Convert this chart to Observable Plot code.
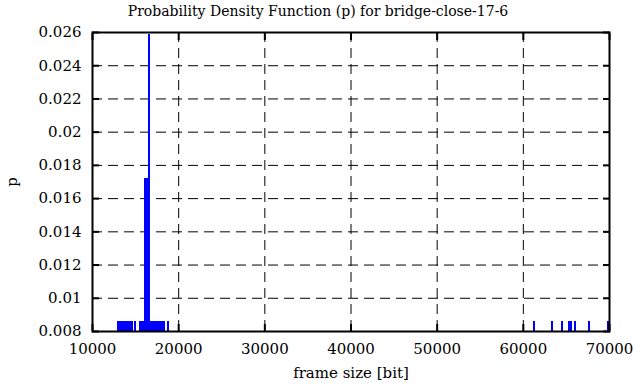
<!DOCTYPE html>
<html><head><meta charset="utf-8">
<script src="https://cdn.jsdelivr.net/npm/d3@7"></script>
<script src="https://cdn.jsdelivr.net/npm/@observablehq/plot@0.6"></script>
<style>
body{margin:0;background:#fff;}
#title{font-family:"DejaVu Serif",serif;font-size:14px;height:22px;line-height:22px;text-align:center;width:636px;color:#000;}
</style>
</head><body>
<div id="title">Probability Density Function (p) for bridge-close-17-6</div>
<div id="chart"></div>
<script>
const yTicks = [0.008,0.01,0.012,0.014,0.016,0.018,0.02,0.022,0.024,0.026];
const xTicks = [10000,20000,30000,40000,50000,60000,70000];
// frame sizes occurring once (p = 1/116), twice, three times
const singleSizes = [13010,13090,13180,13260,13330,13400,13470,13550,13620,13700,13790,13860,13930,14000,14080,14160,14240,14310,14390,14450,14520,14570,14610,
  14970,15460,15540,15620,15700,15780,15850,15930,16000,16050,16700,16780,16870,16950,17020,17090,17160,17240,17310,17380,17450,17520,17600,17670,17740,17820,17900,17970,18040,18110,18170,18220,18270,
  18760,61260,63350,64510,65350,65500,66020,67640,69850];
const doubleSizes = [16150,16250,16380];
const tripleSizes = [16600];
const pSingle = 0.00862, pDouble = 0.01724, pTriple = 0.02586;

const data = [
  ...singleSizes.map(s => ({size: s, p: pSingle})),
  ...doubleSizes.map(s => ({size: s, p: pDouble})),
  ...tripleSizes.map(s => ({size: s, p: pTriple}))
];

const chart = Plot.plot({
  width: 636, height: 365,
  marginTop: 10, marginBottom: 56, marginLeft: 92, marginRight: 27,
  style: {fontFamily: "'DejaVu Serif', serif", fontSize: "15px", color: "#000", background: "#fff"},
  x: {domain: [10000, 70000]},
  y: {domain: [0.008, 0.026]},
  marks: [
    Plot.gridY(yTicks.slice(1, -1), {stroke: "#000", strokeOpacity: 1, strokeWidth: 1, strokeDasharray: "10,6"}),
    Plot.gridX(xTicks.slice(1, -1), {stroke: "#000", strokeOpacity: 1, strokeWidth: 1, strokeDasharray: "10,6"}),
    Plot.ruleX(data, {x: "size", y1: 0, y2: "p", stroke: "#0000ff", strokeWidth: 2, clip: true, shapeRendering: "crispEdges"}),
    Plot.axisY(yTicks, {anchor: "left", tickSize: -7, tickPadding: 18, tickFormat: d3.format("~g"), label: "p", labelAnchor: "center", labelArrow: "none", labelOffset: 86, strokeWidth: 2}),
    Plot.axisY(yTicks, {anchor: "right", tickSize: -7, text: null, label: null, strokeWidth: 2}),
    Plot.axisX(xTicks, {anchor: "bottom", tickSize: -7, tickPadding: 19, tickFormat: d3.format("d"), label: "frame size [bit]", labelAnchor: "center", labelArrow: "none", labelOffset: 46, strokeWidth: 2}),
    Plot.axisX(xTicks, {anchor: "top", tickSize: -7, text: null, label: null, strokeWidth: 2}),
    Plot.frame({stroke: "#000", strokeWidth: 2})
  ]
});
document.getElementById("chart").appendChild(chart);
</script>
</body></html>
